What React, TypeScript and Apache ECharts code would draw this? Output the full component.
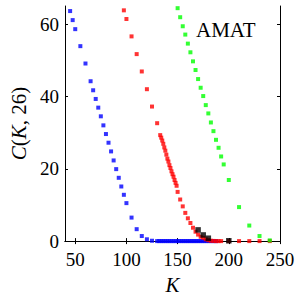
import React, { useEffect, useRef } from "react";
import * as echarts from "echarts";

const xTicks = [50, 100, 150, 200, 250];
const yTicks = [0, 20, 40, 60];

const blueK = [45, 47.5, 50, 55, 60, 65, 67.5, 70, 72.5, 75, 77.5, 80, 82.5, 85, 87.5, 90, 92.5, 95, 97.5, 100, 105, 110, 115, 120, 125,
  130, 132, 134, 136, 138, 140, 142, 144, 146, 148, 150, 152, 154, 156, 158, 160, 162, 164, 166, 168, 170, 172, 174, 176, 178, 180, 182, 184, 186, 188];
const blueC = [63.6, 61.1, 58.6, 53.9, 49.1, 44.2, 41.7, 39.3, 36.9, 34.5, 32.0, 29.6, 27.2, 24.8, 22.3, 19.9, 17.5, 15.1, 12.8, 10.5, 6.5, 3.3, 1.4, 0.5, 0.1,
  0, 0, 0, 0, 0, 0, 0, 0, 0, 0, 0, 0, 0, 0, 0, 0, 0, 0, 0, 0, 0, 0, 0, 0, 0, 0, 0, 0, 0, 0];

const redK = [97.5, 100, 105, 110, 115, 120, 125, 130,
  133, 134, 135, 136, 137, 138, 139, 140, 141, 142, 143, 144, 145, 146, 147, 148, 149, 150,
  152.5, 155, 157.5, 160, 162.5, 165, 167.5, 170, 172.5, 175, 177.5, 180, 182.5, 185, 187.5, 190, 192.5,
  200, 210, 220, 230, 240];
const redC = [63.8, 61.4, 56.6, 51.7, 46.9, 42.0, 37.2, 32.6,
  29.3, 28.6, 27.8, 26.9, 25.9, 25.0, 23.9, 22.8, 22.0, 21.0, 20.2, 19.3, 18.5, 17.8, 16.9, 16.1, 15.3, 13.6,
  11.5, 9.6, 7.8, 6.3, 5.0, 3.7, 2.6, 1.8, 1.2, 0.9, 0.5, 0.25, 0.1, 0.05, 0, 0, 0,
  0, 0, 0, 0, 0];

const greenK = [150, 152.5, 155, 157.5, 160, 162.5, 165, 167.5, 170, 172.5, 175, 177.5, 180, 182.5, 185, 187.5, 190, 192.5, 195, 200, 210, 220, 230, 240];
const greenC = [64.4, 61.9, 59.4, 57.1, 54.6, 52.2, 49.7, 47.3, 44.8, 42.4, 40.1, 37.6, 35.3, 32.8, 30.4, 28.0, 25.8, 23.4, 21.2, 16.9, 9.4, 4.3, 1.4, 0.2];

const blackK = [170, 175, 180, 200];
const blackC = [3.1, 1.7, 0.8, 0.1];

const FONT = "'Liberation Serif', 'DejaVu Serif', serif";

function pairs(k: number[], c: number[]) {
  return k.map((v, i) => [v, c[i]]);
}

export default function App() {
  const ref = useRef<HTMLDivElement>(null);
  useEffect(() => {
    if (!ref.current) return;
    const chart = echarts.init(ref.current, undefined, { renderer: "svg" });
    const axisLine = { show: true, lineStyle: { color: "#000", width: 1 } };
    const tickStyle = { show: true, inside: true, length: 3, lineStyle: { color: "#000", width: 1 } };
    chart.setOption({
      animation: false,
      textStyle: { fontFamily: FONT },
      grid: { left: 54, right: 20, top: 6, bottom: 56, containLabel: false },
      xAxis: [
        {
          type: "value", min: 40, max: 250, position: "bottom",
          axisLine,
          axisTick: { ...tickStyle, customValues: xTicks },
          axisLabel: { customValues: xTicks, fontFamily: FONT, fontSize: 19, color: "#000", margin: 9 },
          splitLine: { show: false },
          name: "K", nameLocation: "middle", nameGap: 30,
          nameTextStyle: { fontFamily: FONT, fontStyle: "italic", fontSize: 21, color: "#000" },
        },
        {
          type: "value", min: 40, max: 250, position: "top",
          axisLine,
          axisTick: { ...tickStyle, customValues: xTicks },
          axisLabel: { show: false, customValues: xTicks },
          splitLine: { show: false },
        },
      ],
      yAxis: [
        {
          type: "value", min: 0, max: 65, position: "left",
          axisLine,
          axisTick: { ...tickStyle, customValues: yTicks },
          axisLabel: { customValues: yTicks, fontFamily: FONT, fontSize: 19, color: "#000", margin: 6 },
          splitLine: { show: false },
          name: "{i|C}({i|K}, 26)", nameLocation: "middle", nameGap: 36, nameRotate: 90,
          nameTextStyle: {
            fontFamily: FONT, fontSize: 21, color: "#000",
            rich: { i: { fontFamily: FONT, fontStyle: "italic", fontSize: 21, color: "#000" } },
          },
        },
        {
          type: "value", min: 0, max: 65, position: "right",
          axisLine,
          axisTick: { ...tickStyle, customValues: yTicks },
          axisLabel: { show: false, customValues: yTicks },
          splitLine: { show: false },
        },
      ],
      graphic: [
        {
          type: "text", left: 196, top: 19,
          style: { text: "AMAT", fontFamily: FONT, fontSize: 21, fill: "#000" },
        },
      ],
      series: [
        { type: "scatter", data: pairs(blueK, blueC), symbol: "rect", symbolSize: 4, itemStyle: { color: "#0000ff" }, clip: false },
        { type: "scatter", data: pairs(redK, redC), symbol: "rect", symbolSize: 4, itemStyle: { color: "#ff0000" }, clip: false },
        { type: "scatter", data: pairs(blackK, blackC), symbol: "rect", symbolSize: 5.5, itemStyle: { color: "#000000" }, clip: false },
        { type: "scatter", data: pairs(greenK, greenC), symbol: "rect", symbolSize: 4, itemStyle: { color: "#00ff00" }, clip: false },
      ],
    });
    return () => chart.dispose();
  }, []);
  return <div ref={ref} style={{ width: 300, height: 300, position: "absolute", left: 0, top: 0 }} />;
}
